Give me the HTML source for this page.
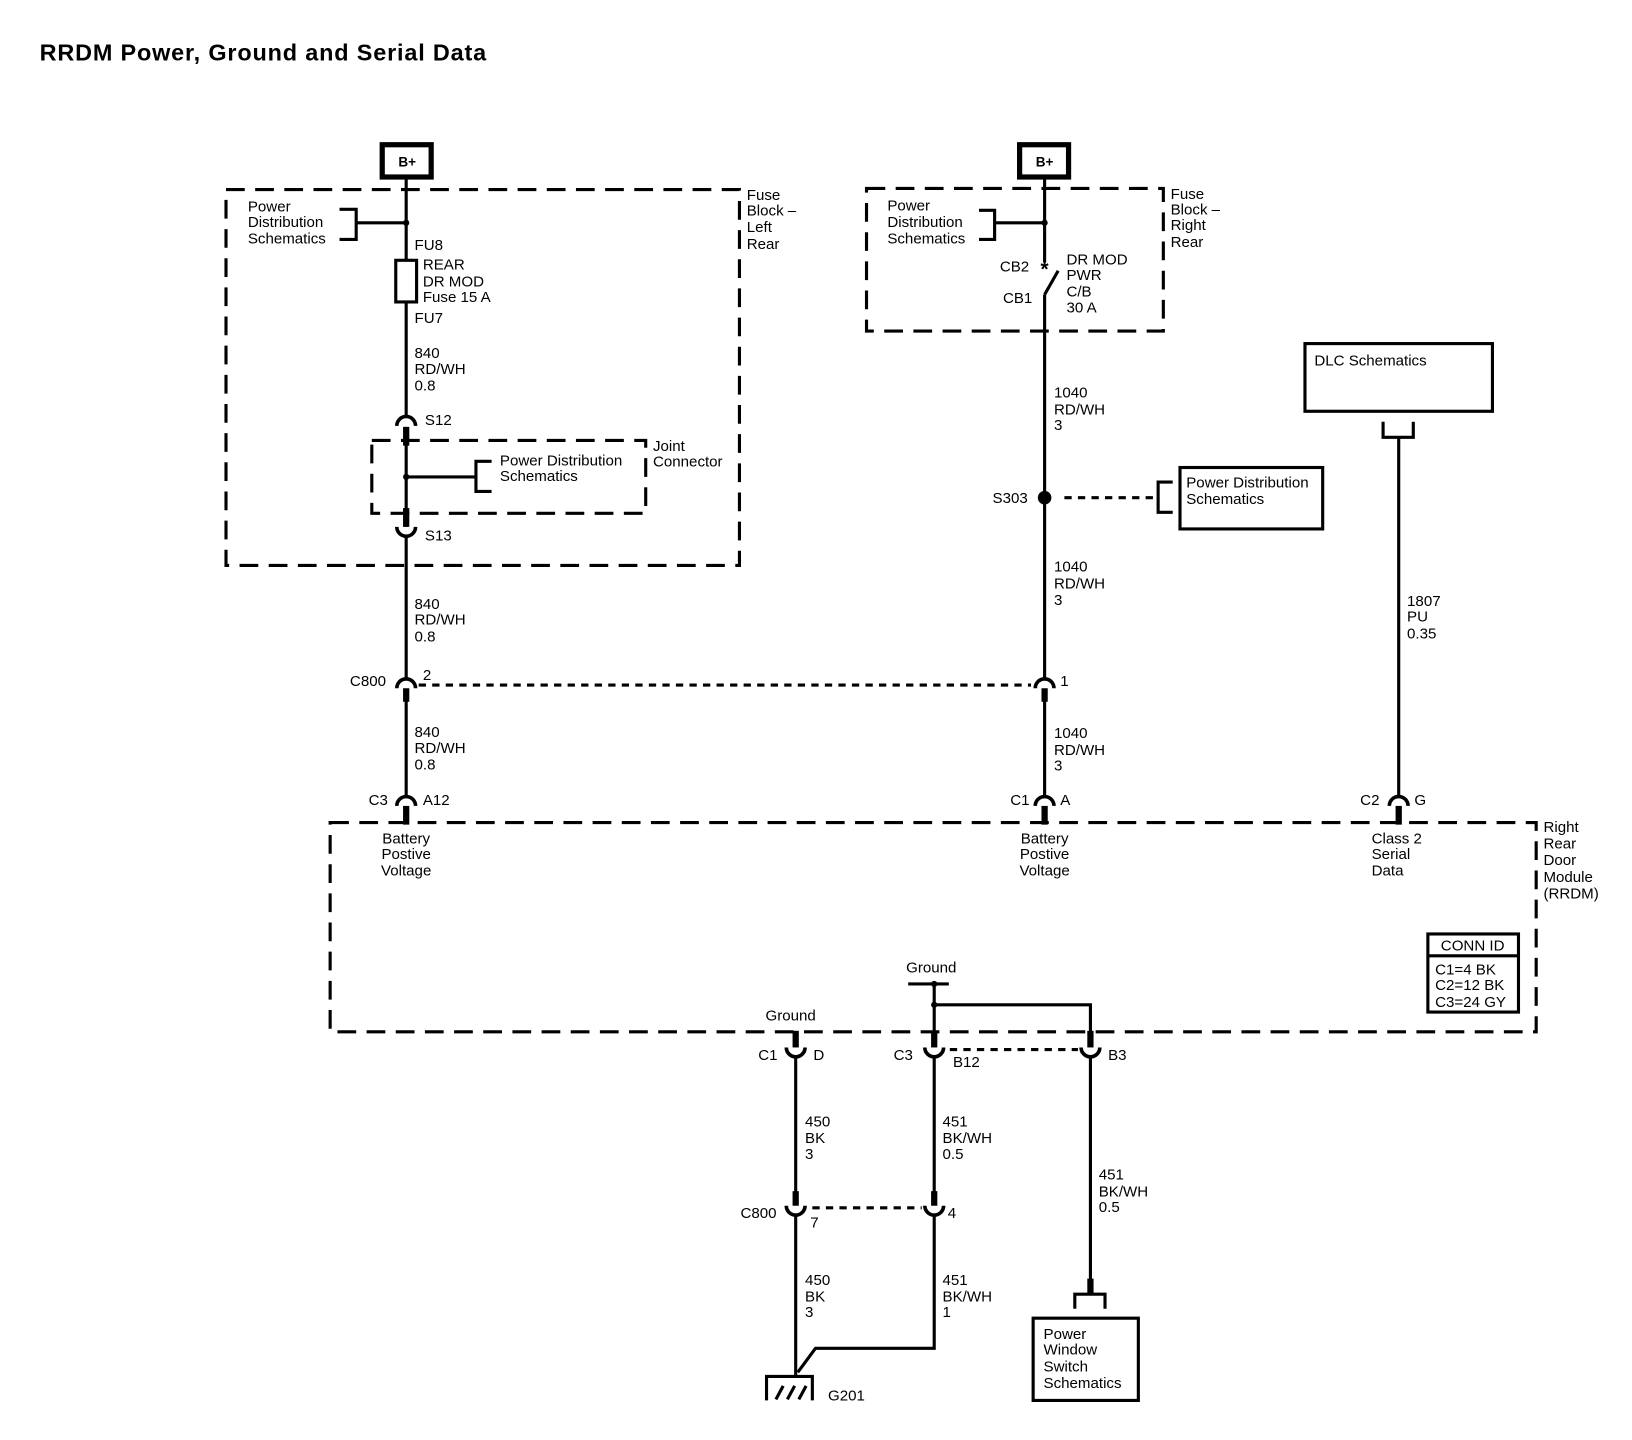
<!DOCTYPE html>
<html><head><meta charset="utf-8"><style>html,body{margin:0;padding:0;background:#fff}svg{display:block}</style></head><body>
<svg width="1632" height="1440" viewBox="0 0 1567 1383" preserveAspectRatio="none" xmlns="http://www.w3.org/2000/svg" font-family="Liberation Sans, sans-serif" font-size="14.5" fill="#000">
<rect width="1567" height="1383" fill="#fff"/>
<text x="38" y="58" font-size="22.5" font-weight="bold" letter-spacing="0.8">RRDM Power, Ground and Serial Data</text>
<g fill="none" stroke="#000">
<g stroke-width="3" stroke-dasharray="18,10">
<rect x="217" y="182" width="493" height="361"/>
<rect x="357" y="423" width="263" height="70"/>
<rect x="832" y="181" width="285" height="137"/>
<rect x="317" y="790" width="1158" height="201"/>
</g>
<rect x="367" y="139" width="47" height="31" stroke-width="5"/>
<rect x="979" y="139" width="47" height="31" stroke-width="5"/>
<g stroke-width="3">
<line x1="390" y1="171" x2="390" y2="250"/>
<line x1="390" y1="290" x2="390" y2="400"/>
<line x1="390" y1="410" x2="390" y2="506"/>
<line x1="390" y1="515" x2="390" y2="652"/>
<line x1="390" y1="672" x2="390" y2="765"/>
<rect x="380" y="250" width="20" height="40"/>
<polyline points="326,201 342,201 342,230 326,230"/>
<line x1="342" y1="214" x2="390" y2="214"/>
<line x1="390" y1="458" x2="457" y2="458"/>
<polyline points="472,443 457,443 457,472 472,472"/>
<line x1="1003" y1="171" x2="1003" y2="252"/>
<line x1="1003" y1="283" x2="1003" y2="652"/>
<line x1="1003" y1="283" x2="1016" y2="260"/>
<line x1="1003" y1="672" x2="1003" y2="765"/>
<polyline points="940,202 955,202 955,230 940,230"/>
<line x1="955" y1="214" x2="1003" y2="214"/>
<polyline points="1126,463 1112,463 1112,492 1126,492"/>
<rect x="1253" y="330" width="180" height="65"/>
<polyline points="1328,405 1328,420 1357,420 1357,405"/>
<line x1="1343" y1="420" x2="1343" y2="765"/>
<rect x="1133" y="449" width="137" height="59"/>
<rect x="1371" y="897" width="87" height="75"/>
<line x1="1371" y1="918" x2="1458" y2="918"/>
<line x1="764" y1="1015" x2="764" y2="1157"/>
<line x1="764" y1="1167" x2="764" y2="1322"/>
<line x1="872" y1="945" x2="911" y2="945"/>
<line x1="897" y1="945" x2="897" y2="995"/>
<polyline points="897,965 1047,965 1047,995"/>
<line x1="897" y1="1015" x2="897" y2="1157"/>
<polyline points="897,1167 897,1295 783,1295 766,1318"/>
<line x1="1047" y1="1015" x2="1047" y2="1243"/>
<polyline points="1032,1257 1032,1243 1061,1243 1061,1257"/>
<rect x="992" y="1266" width="101" height="79"/>
<polyline points="736,1345 736,1322 780,1322 780,1345"/>
<line x1="745" y1="1344" x2="752" y2="1331"/>
<line x1="756" y1="1344" x2="763" y2="1331"/>
<line x1="767" y1="1344" x2="774" y2="1331"/>
</g>
<g stroke-width="3" stroke-dasharray="7,6">
<line x1="402" y1="658" x2="990" y2="658"/>
<line x1="1022" y1="478" x2="1108" y2="478"/>
<line x1="912" y1="1008" x2="1035" y2="1008"/>
<line x1="780" y1="1160" x2="885" y2="1160"/>
</g>
<g stroke-width="3.5">
<path d="M381 409 A9 9 0 0 1 399 409"/>
<path d="M381 661 A9 9 0 0 1 399 661"/>
<path d="M381 774 A9 9 0 0 1 399 774"/>
<path d="M994 661 A9 9 0 0 1 1012 661"/>
<path d="M994 774 A9 9 0 0 1 1012 774"/>
<path d="M1334 774 A9 9 0 0 1 1352 774"/>
<path d="M381 506 A9 9 0 0 0 399 506"/>
<path d="M755 1006 A9 9 0 0 0 773 1006"/>
<path d="M888 1006 A9 9 0 0 0 906 1006"/>
<path d="M1038 1006 A9 9 0 0 0 1056 1006"/>
<path d="M755 1158 A9 9 0 0 0 773 1158"/>
<path d="M888 1158 A9 9 0 0 0 906 1158"/>
</g>
<g stroke-width="6">
<line x1="390" y1="410" x2="390" y2="428"/>
<line x1="390" y1="488" x2="390" y2="506"/>
<line x1="390" y1="661" x2="390" y2="674"/>
<line x1="390" y1="774" x2="390" y2="792"/>
<line x1="1003" y1="661" x2="1003" y2="674"/>
<line x1="1003" y1="774" x2="1003" y2="792"/>
<line x1="1343" y1="774" x2="1343" y2="792"/>
<line x1="764" y1="990" x2="764" y2="1006"/>
<line x1="897" y1="990" x2="897" y2="1006"/>
<line x1="1047" y1="990" x2="1047" y2="1006"/>
<line x1="764" y1="1144" x2="764" y2="1158"/>
<line x1="897" y1="1144" x2="897" y2="1158"/>
<line x1="1047" y1="1228" x2="1047" y2="1243"/>
</g>
</g>
<circle cx="390" cy="214" r="3"/><circle cx="390" cy="458" r="3"/><circle cx="1003" cy="214" r="3"/>
<circle cx="1003" cy="478" r="6.5"/><circle cx="897" cy="945" r="3"/><circle cx="897" cy="965" r="3"/>
<text x="391" y="160" font-size="13" font-weight="bold" text-anchor="middle">B+</text>
<text x="1003" y="160" font-size="13" font-weight="bold" text-anchor="middle">B+</text>
<text x="1003" y="265" font-size="20" font-weight="bold" text-anchor="middle">*</text>
<g>
<text x="238" y="203">Power</text><text x="238" y="218">Distribution</text><text x="238" y="234">Schematics</text>
<text x="717" y="192">Fuse</text><text x="717" y="207">Block –</text><text x="717" y="223">Left</text><text x="717" y="239">Rear</text>
<text x="398" y="240">FU8</text>
<text x="406" y="259">REAR</text><text x="406" y="275">DR MOD</text><text x="406" y="290">Fuse 15 A</text>
<text x="398" y="310">FU7</text>
<text x="398" y="344">840</text><text x="398" y="359">RD/WH</text><text x="398" y="375">0.8</text>
<text x="408" y="408">S12</text>
<text x="627" y="433">Joint</text><text x="627" y="448">Connector</text>
<text x="480" y="447">Power Distribution</text><text x="480" y="462">Schematics</text>
<text x="408" y="519">S13</text>
<text x="398" y="585">840</text><text x="398" y="600">RD/WH</text><text x="398" y="616">0.8</text>
<text x="336" y="659">C800</text><text x="406" y="653">2</text>
<text x="398" y="708">840</text><text x="398" y="723">RD/WH</text><text x="398" y="739">0.8</text>
<text x="354" y="773">C3</text><text x="406" y="773">A12</text>
<text x="390" y="810" text-anchor="middle">Battery</text><text x="390" y="825" text-anchor="middle">Postive</text><text x="390" y="841" text-anchor="middle">Voltage</text>
<text x="852" y="202">Power</text><text x="852" y="218">Distribution</text><text x="852" y="234">Schematics</text>
<text x="1124" y="191">Fuse</text><text x="1124" y="206">Block –</text><text x="1124" y="221">Right</text><text x="1124" y="237">Rear</text>
<text x="960" y="261">CB2</text><text x="963" y="291">CB1</text>
<text x="1024" y="254">DR MOD</text><text x="1024" y="269">PWR</text><text x="1024" y="285">C/B</text><text x="1024" y="300">30 A</text>
<text x="1012" y="382">1040</text><text x="1012" y="398">RD/WH</text><text x="1012" y="413">3</text>
<text x="953" y="483">S303</text>
<text x="1139" y="468">Power Distribution</text><text x="1139" y="484">Schematics</text>
<text x="1012" y="549">1040</text><text x="1012" y="565">RD/WH</text><text x="1012" y="581">3</text>
<text x="1018" y="659">1</text>
<text x="1012" y="709">1040</text><text x="1012" y="725">RD/WH</text><text x="1012" y="740">3</text>
<text x="970" y="773">C1</text><text x="1018" y="773">A</text>
<text x="1003" y="810" text-anchor="middle">Battery</text><text x="1003" y="825" text-anchor="middle">Postive</text><text x="1003" y="841" text-anchor="middle">Voltage</text>
<text x="1262" y="351">DLC Schematics</text>
<text x="1351" y="582">1807</text><text x="1351" y="597">PU</text><text x="1351" y="613">0.35</text>
<text x="1306" y="773">C2</text><text x="1358" y="773">G</text>
<text x="1317" y="810">Class 2</text><text x="1317" y="825">Serial</text><text x="1317" y="841">Data</text>
<text x="1482" y="799">Right</text><text x="1482" y="815">Rear</text><text x="1482" y="831">Door</text><text x="1482" y="847">Module</text><text x="1482" y="863">(RRDM)</text>
<text x="1414" y="913" text-anchor="middle">CONN ID</text>
<text x="1378" y="936">C1=4 BK</text><text x="1378" y="951">C2=12 BK</text><text x="1378" y="967">C3=24 GY</text>
<text x="735" y="980">Ground</text>
<text x="870" y="934">Ground</text>
<text x="728" y="1018">C1</text><text x="781" y="1018">D</text>
<text x="858" y="1018">C3</text><text x="915" y="1025">B12</text><text x="1064" y="1018">B3</text>
<text x="773" y="1082">450</text><text x="773" y="1098">BK</text><text x="773" y="1113">3</text>
<text x="905" y="1082">451</text><text x="905" y="1098">BK/WH</text><text x="905" y="1113">0.5</text>
<text x="1055" y="1133">451</text><text x="1055" y="1149">BK/WH</text><text x="1055" y="1164">0.5</text>
<text x="711" y="1170">C800</text><text x="778" y="1179">7</text><text x="910" y="1170">4</text>
<text x="773" y="1234">450</text><text x="773" y="1250">BK</text><text x="773" y="1265">3</text>
<text x="905" y="1234">451</text><text x="905" y="1250">BK/WH</text><text x="905" y="1265">1</text>
<text x="795" y="1345">G201</text>
<text x="1002" y="1286">Power</text><text x="1002" y="1301">Window</text><text x="1002" y="1317">Switch</text><text x="1002" y="1333">Schematics</text>
</g>
</svg>
</body></html>
